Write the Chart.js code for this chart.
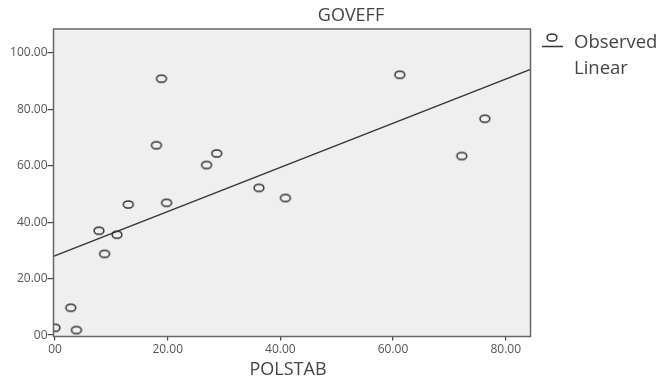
<!DOCTYPE html>
<html>
<head>
<meta charset="utf-8">
<script src="https://cdn.jsdelivr.net/npm/chart.js@4"></script>
<style>
  html, body { margin: 0; padding: 0; background: #fff; }
  canvas { display: block; }
</style>
</head>
<body>
<canvas id="chart" width="659" height="383"></canvas>
<script>
const polstab = [0, 2.8, 3.8, 7.8, 8.8, 11.0, 13.0, 18.0, 18.9, 19.8, 26.9, 28.7, 36.2, 40.9, 61.2, 72.2, 76.3];
const goveff  = [2.6, 9.7, 1.8, 37.0, 28.8, 35.6, 46.3, 67.3, 90.9, 46.9, 60.3, 64.4, 52.2, 48.6, 92.3, 63.5, 76.7];

// Linear fit line end points
const fitX = [-0.3, 84.4];
const fitY = [27.9, 94.2];

const xTicks = [0, 20, 40, 60, 80];
const yTicks = [0, 20, 40, 60, 80, 100];

const FONT = "'Open Sans', 'DejaVu Sans', sans-serif";
const INK = '#333';

// small ellipse used as the point marker
function ringMarker() {
  const c = document.createElement('canvas');
  c.width = 14; c.height = 11;
  const g = c.getContext('2d');
  g.strokeStyle = INK;
  g.lineWidth = 1.5;
  g.beginPath();
  g.ellipse(7, 5.5, 4.9, 3.6, 0, 0, Math.PI * 2);
  g.stroke();
  return c;
}
const marker = ringMarker();

const fmt = v => v === 0 ? '00' : v.toFixed(2);

const frame = {
  id: 'frame',
  beforeDraw(chart) {
    const { ctx, chartArea: a } = chart;
    ctx.save();
    ctx.fillStyle = '#efefef';
    ctx.fillRect(a.left, a.top, a.right - a.left, a.bottom - a.top);
    ctx.restore();
  },
  afterDraw(chart) {
    const { ctx, chartArea: a } = chart;
    ctx.save();
    ctx.strokeStyle = '#666';
    ctx.lineWidth = 1.5;
    ctx.strokeRect(a.left, a.top, a.right - a.left, a.bottom - a.top);

    // title and axis title
    ctx.fillStyle = '#444';
    ctx.textAlign = 'center';
    ctx.textBaseline = 'alphabetic';
    ctx.font = '18px ' + FONT;
    ctx.fillText('GOVEFF', 351, 21);
    ctx.fillText('POLSTAB', 288, 375);

    // legend
    ctx.textAlign = 'left';
    ctx.font = '18.5px ' + FONT;
    ctx.fillText('Observed', 574, 48);
    ctx.fillText('Linear', 574, 74);
    ctx.drawImage(marker, 552 - 7, 37.5 - 5.5);
    ctx.strokeStyle = INK;
    ctx.lineWidth = 1.5;
    ctx.beginPath();
    ctx.moveTo(542, 46.5);
    ctx.lineTo(563, 46.5);
    ctx.stroke();
    ctx.restore();
  }
};

new Chart(document.getElementById('chart'), {
  type: 'scatter',
  data: {
    datasets: [
      {
        label: 'Observed',
        data: polstab.map((x, i) => ({ x, y: goveff[i] })),
        pointStyle: marker,
        pointRadius: 5,
        showLine: false
      },
      {
        label: 'Linear',
        type: 'line',
        data: fitX.map((x, i) => ({ x, y: fitY[i] })),
        borderColor: INK,
        borderWidth: 1.4,
        pointRadius: 0,
        fill: false
      }
    ]
  },
  options: {
    responsive: false,
    animation: false,
    layout: { padding: { top: 29, right: 128.5, left: 0, bottom: 0 } },
    plugins: { legend: { display: false }, tooltip: { enabled: false } },
    scales: {
      x: {
        type: 'linear',
        min: -0.27,
        max: 84.4,
        afterBuildTicks: s => { s.ticks = xTicks.map(value => ({ value })); },
        afterFit: s => { s.height = 46.5; },
        grid: { drawOnChartArea: false, drawTicks: true, tickLength: 4, color: '#444', lineWidth: 1.2 },
        border: { display: false },
        ticks: { color: '#555', font: { family: FONT, size: 12 }, padding: 2, maxRotation: 0, callback: fmt }
      },
      y: {
        type: 'linear',
        min: -0.5,
        max: 108.5,
        afterBuildTicks: s => { s.ticks = yTicks.map(value => ({ value })); },
        afterFit: s => { s.width = 53.5; },
        grid: { drawOnChartArea: false, drawTicks: true, tickLength: 6, color: '#444', lineWidth: 1.2 },
        border: { display: false },
        ticks: { color: '#555', font: { family: FONT, size: 12 }, padding: 0, callback: fmt }
      }
    }
  },
  plugins: [frame]
});
</script>
</body>
</html>
